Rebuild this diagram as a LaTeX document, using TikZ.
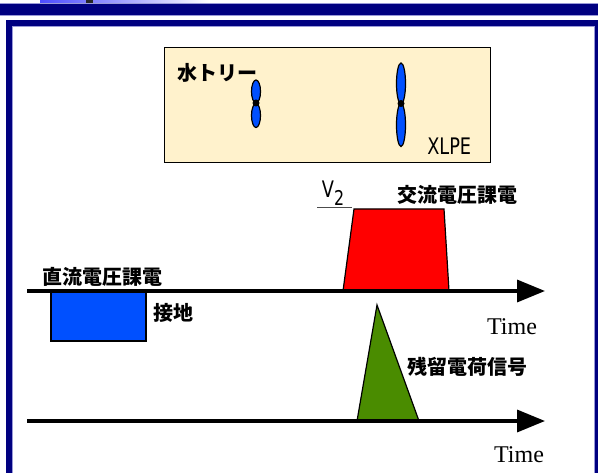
\documentclass[tikz,border=0pt]{standalone}
\usepackage{fontspec}
\setmainfont{Liberation Serif}
\newfontfamily\jp{Noto Sans CJK JP}
\newfontfamily\lat{DejaVu Sans}
\usetikzlibrary{arrows.meta}
\definecolor{navyc}{HTML}{000080}
\definecolor{hilite}{HTML}{9A9AD8}
\definecolor{tanc}{HTML}{FFF2CC}
\definecolor{treeblue}{HTML}{0050FF}
\definecolor{sigreen}{HTML}{4A8C00}
\newcommand{\tallsans}[1]{\scalebox{0.95}[1.22]{#1}}
\begin{document}
\begin{tikzpicture}[x=0.75pt,y=-0.75pt,
  jlabel/.style={font=\jp\bfseries\fontsize{15}{18}\selectfont, inner sep=0pt},
  tlabel/.style={font=\fontsize{18}{21}\selectfont, inner sep=0pt},
  slabel/.style={font=\lat\fontsize{14}{16}\selectfont, inner sep=0pt},
  lobe/.style={fill=treeblue, draw=black, line width=0.9pt},
  axis/.style={line width=2.6pt, -{Triangle[length=21pt,width=16.5pt]}},
  pulse/.style={draw=black, line width=0.9pt}]
\useasboundingbox (0,0) rectangle (598,473);
\fill[white] (0,0) rectangle (598,473);

% title strip
\shade[left color=blue!70!white, right color=white] (40,0) rectangle (210,2.5);
\fill[black!85] (86,0) rectangle (93,3.5);
\fill[hilite] (0,2.6) rectangle (598,16);
\fill[navyc] (0,3.8) rectangle (598,15);

% frame
\draw[navyc, line width=4.5pt] (9,23) rectangle (598,490);
\draw[hilite, line width=0.6pt] (12.6,26.6) rectangle (594.6,490);

% insulation sample with water trees
\node[draw=black, fill=tanc, line width=1.1pt, minimum width=326pt*0.75, minimum height=115pt*0.75, inner sep=0pt] (sample) at (327.25,104.75) {};
\node[jlabel, anchor=west] (wt) at (177,73) {水トリー};
\node[slabel, anchor=west] (xlpe) at (427,146) {\tallsans{XLPE}};

\draw[lobe] (256,91.5) ellipse [x radius=4.5, y radius=11.5];
\draw[lobe] (256,115.5) ellipse [x radius=4.5, y radius=12];
\fill[black] (256,103) circle [radius=3.5];

\draw[lobe] (401,83.5) ellipse [x radius=4.5, y radius=20.5];
\draw[lobe] (401,125) ellipse [x radius=4.5, y radius=21.5];
\fill[black] (401,103.5) circle [radius=3.5];

% AC voltage pulse
\draw[pulse, fill=red] (343,291) -- (354,209) -- (444,209) -- (449,291) -- cycle;
\coordinate (v2a) at (317,207.5);
\coordinate (v2b) at (352,207.5);
\draw[black!70, line width=0.8pt] (v2a) -- (v2b);
\node[slabel] (v2) at (333,193) {\tallsans{V\raisebox{-5pt}{\fontsize{12.5}{14}\selectfont 2}}};
\node[jlabel] (ac) at (457,195) {交流電圧課電};

% DC voltage / grounding pulse
\draw[pulse, fill=treeblue] (51,291) rectangle (146,341);
\node[jlabel] (dc) at (102,277) {直流電圧課電};
\node[jlabel] (gnd) at (173,313) {接地};

% first time axis
\coordinate (a1s) at (27,291);
\coordinate (a1e) at (545,291);
\draw[axis] (a1s) -- (a1e);
\node[tlabel] (t1) at (512,327) {Time};

% residual charge signal
\draw[pulse, fill=sigreen] (357,421) -- (377,305) -- (419,421) -- cycle;
\node[jlabel] (rc) at (467,367) {残留電荷信号};

% second time axis
\coordinate (a2s) at (27,421);
\coordinate (a2e) at (545,421);
\draw[axis] (a2s) -- (a2e);
\node[tlabel] (t2) at (519,455) {Time};
\end{tikzpicture}
\end{document}
